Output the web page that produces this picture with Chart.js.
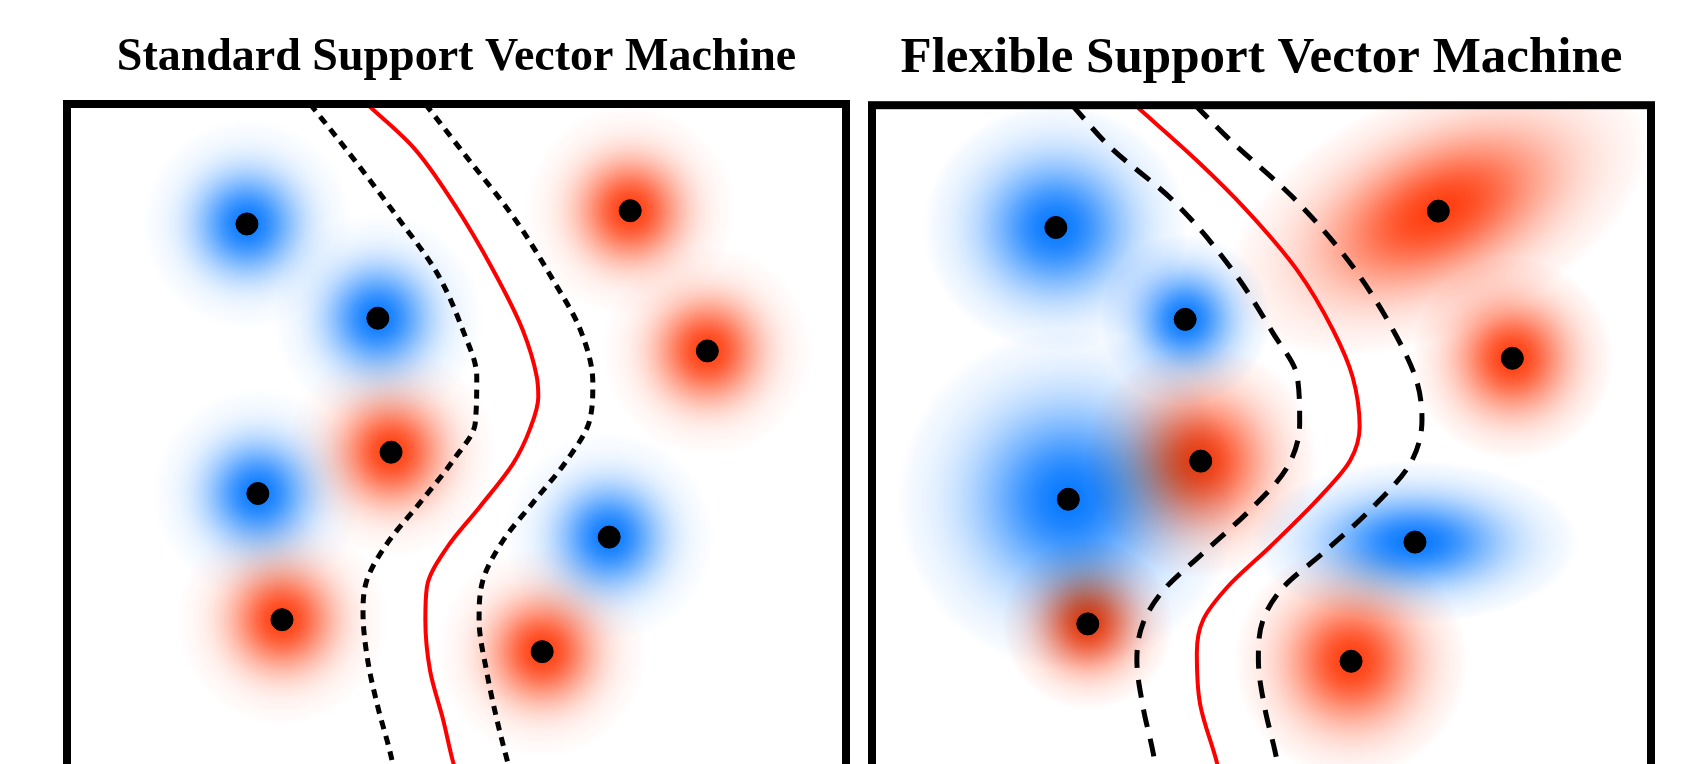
<!DOCTYPE html>
<html>
<head>
<meta charset="utf-8">
<script src="https://cdn.jsdelivr.net/npm/chart.js@4"></script>
<style>
  html, body { margin: 0; padding: 0; background: #fff; overflow: hidden; width: 1700px; height: 764px; }
  canvas { position: absolute; top: 0; }
  #stdChart { left: 0; }
  #flexChart { left: 860px; }
</style>
</head>
<body>
<canvas id="stdChart" width="860" height="900"></canvas>
<canvas id="flexChart" width="840" height="900"></canvas>
<script>
// --- data (plot units: 0..10 across the frame, y up) ---
const stdBlueX = [2.31, 3.99, 2.45, 6.96];
const stdBlueY = [8.46, 7.25, 5.00, 4.44];
const stdRedX = [7.23, 8.22, 4.16, 2.76, 6.10];
const stdRedY = [8.63, 6.83, 5.53, 3.38, 2.97];

const flexBlueX = [2.36, 4.02, 2.52, 6.97];
const flexBlueY = [8.43, 7.25, 4.94, 4.39];
const flexRedX = [7.27, 8.22, 4.22, 2.77, 6.15];
const flexRedY = [8.64, 6.75, 5.43, 3.34, 2.86];

// spread of each point (std panel: one size for all)
const stdSpread = 1.35;
const flexBlueSpreadX = [1.7, 1.1, 2.2, 2.1];
const flexBlueSpreadY = [1.6, 1.1, 2.2, 1.05];
const flexBlueAngle = [0, 0, 0, 0];
const flexRedSpreadX = [2.9, 1.3, 1.5, 1.1, 1.5];
const flexRedSpreadY = [1.55, 1.3, 1.5, 1.1, 1.5];
const flexRedAngle = [25, 0, 0, 0, 0];

// decision boundary and margins
const stdBoundX = [3.85, 4.44, 4.96, 5.47, 5.85, 6.03, 6.05, 5.94, 5.73, 5.30, 4.88, 4.62, 4.60, 4.66, 4.83, 4.96, 5.11];
const stdBoundY = [10.0, 9.45, 8.73, 7.87, 7.10, 6.50, 6.24, 5.82, 5.39, 4.83, 4.31, 3.80, 3.38, 2.73, 2.09, 1.54, 1.07];
const stdLowX = [3.12, 3.59, 4.24, 4.75, 5.08, 5.26, 5.24, 4.96, 4.53, 4.11, 3.85, 3.80, 3.86, 3.99, 4.15, 4.27];
const stdLowY = [10.0, 9.41, 8.55, 7.83, 7.10, 6.50, 5.90, 5.43, 4.88, 4.36, 3.89, 3.47, 2.86, 2.26, 1.67, 1.07];
const stdHighX = [4.60, 5.13, 5.73, 6.24, 6.59, 6.75, 6.71, 6.42, 5.98, 5.60, 5.34, 5.29, 5.39, 5.52, 5.66, 5.79];
const stdHighY = [10.0, 9.32, 8.55, 7.74, 7.10, 6.42, 5.94, 5.43, 4.88, 4.40, 3.89, 3.38, 2.70, 2.09, 1.54, 1.07];

const flexBoundX = [3.38, 4.17, 4.81, 5.46, 5.92, 6.17, 6.26, 6.14, 5.75, 5.11, 4.56, 4.25, 4.17, 4.21, 4.43, 4.53];
const flexBoundY = [10.0, 9.29, 8.65, 7.88, 7.11, 6.51, 5.87, 5.44, 4.97, 4.33, 3.81, 3.39, 2.97, 2.32, 1.55, 1.08];
const flexLowX = [2.57, 3.06, 3.86, 4.60, 5.15, 5.46, 5.49, 5.33, 4.85, 4.25, 3.74, 3.48, 3.40, 3.48, 3.61, 3.70];
const flexLowY = [10.0, 9.46, 8.78, 7.92, 7.07, 6.51, 5.92, 5.35, 4.80, 4.25, 3.77, 3.35, 2.88, 2.27, 1.68, 1.08];
const flexHighX = [4.15, 4.60, 5.40, 6.14, 6.74, 7.00, 7.06, 6.91, 6.39, 5.79, 5.28, 5.02, 4.96, 5.04, 5.17, 5.30];
const flexHighY = [10.0, 9.55, 8.82, 7.97, 7.02, 6.43, 5.96, 5.40, 4.80, 4.25, 3.81, 3.39, 2.88, 2.27, 1.72, 1.08];

const BLUE = [10, 122, 255];
const RED = [255, 62, 16];
const serif = '"Liberation Serif", "Times New Roman", serif';

function pts(xs, ys) {
    return xs.map((x, i) => ({ x: x, y: ys[i] }));
}

// gaussian glow under each point
const blobPlugin = {
    id: 'blobs',
    beforeDatasetsDraw(chart, args, opts) {
        const { ctx, chartArea } = chart;
        const sx = chart.scales.x, sy = chart.scales.y;
        ctx.save();
        ctx.beginPath();
        ctx.rect(chartArea.left, chartArea.top, chartArea.width, chartArea.height);
        ctx.clip();
        ctx.fillStyle = '#fff';
        ctx.fillRect(chartArea.left, chartArea.top, chartArea.width, chartArea.height);
        ctx.globalCompositeOperation = 'multiply';
        const unit = Math.abs(sx.getPixelForValue(1) - sx.getPixelForValue(0));
        opts.groups.forEach(g => {
            g.xs.forEach((xv, i) => {
                const px = sx.getPixelForValue(xv);
                const py = sy.getPixelForValue(g.ys[i]);
                const rx = g.rx[i] * unit, ry = g.ry[i] * unit;
                ctx.save();
                ctx.translate(px, py);
                ctx.rotate(-g.ang[i] * Math.PI / 180);
                ctx.scale(rx, ry);
                const grad = ctx.createRadialGradient(0, 0, 0, 0, 0, 1);
                for (let k = 0; k <= 12; k++) {
                    const t = k / 12;
                    const a = k === 12 ? 0 : Math.exp(-g.fall * t * t);
                    grad.addColorStop(t, `rgba(${g.c[0]},${g.c[1]},${g.c[2]},${a.toFixed(3)})`);
                }
                ctx.fillStyle = grad;
                ctx.beginPath();
                ctx.arc(0, 0, 1, 0, Math.PI * 2);
                ctx.fill();
                ctx.restore();
            });
        });
        ctx.restore();
    },
    afterDraw(chart) {
        const { ctx, chartArea } = chart;
        ctx.save();
        ctx.strokeStyle = '#000';
        ctx.lineWidth = 8;
        ctx.strokeRect(chartArea.left, chartArea.top, chartArea.width, chartArea.height);
        ctx.restore();
    }
};

function lineSet(xs, ys, color, dash, width) {
    return {
        type: 'line',
        data: pts(xs, ys),
        indexAxis: 'y',
        showLine: true,
        borderColor: color,
        borderWidth: width,
        borderDash: dash,
        pointRadius: 0,
        cubicInterpolationMode: 'monotone',
        fill: false,
        order: 2
    };
}

function makeChart(id, title, fontSize, titlePad, pad, p) {
    return new Chart(document.getElementById(id), {
        type: 'scatter',
        data: {
            datasets: [
                {
                    label: 'points',
                    data: pts(p.blueX.concat(p.redX), p.blueY.concat(p.redY)),
                    backgroundColor: '#000',
                    borderColor: '#000',
                    pointRadius: 11,
                    pointHoverRadius: 11,
                    order: 0
                },
                lineSet(p.boundX, p.boundY, '#ff0000', [], 4),
                lineSet(p.lowX, p.lowY, '#000', p.dash, 5),
                lineSet(p.highX, p.highY, '#000', p.dash, 5)
            ]
        },
        options: {
            responsive: false,
            animation: false,
            events: [],
            layout: { padding: pad },
            scales: {
                x: { type: 'linear', min: 0, max: 10, display: false },
                y: { type: 'linear', min: 0, max: 10, display: false }
            },
            plugins: {
                legend: { display: false },
                tooltip: { enabled: false },
                title: {
                    display: true,
                    text: title,
                    color: '#000',
                    font: { family: serif, size: fontSize, weight: 'bold', lineHeight: 1.2 },
                    padding: titlePad
                },
                blobs: { groups: p.groups }
            }
        },
        plugins: [blobPlugin]
    });
}

makeChart('stdChart', 'Standard Support Vector Machine', 46,
    { top: 31, bottom: 17.8 }, { left: 67, right: 14, top: 0, bottom: 17 }, {
    blueX: stdBlueX, blueY: stdBlueY, redX: stdRedX, redY: stdRedY,
    boundX: stdBoundX, boundY: stdBoundY, lowX: stdLowX, lowY: stdLowY, highX: stdHighX, highY: stdHighY,
    dash: [9, 7],
    groups: [
        { xs: stdBlueX, ys: stdBlueY, rx: stdBlueX.map(() => stdSpread), ry: stdBlueX.map(() => stdSpread), ang: stdBlueX.map(() => 0), c: BLUE, fall: 4.5 },
        { xs: stdRedX, ys: stdRedY, rx: stdRedX.map(() => stdSpread), ry: stdRedX.map(() => stdSpread), ang: stdRedX.map(() => 0), c: RED, fall: 4.5 }
    ]
});

makeChart('flexChart', 'Flexible Support Vector Machine', 51,
    { top: 28, bottom: 16 }, { left: 12, right: 49, top: 0, bottom: 16 }, {
    blueX: flexBlueX, blueY: flexBlueY, redX: flexRedX, redY: flexRedY,
    boundX: flexBoundX, boundY: flexBoundY, lowX: flexLowX, lowY: flexLowY, highX: flexHighX, highY: flexHighY,
    dash: [18, 12],
    groups: [
        { xs: flexBlueX, ys: flexBlueY, rx: flexBlueSpreadX, ry: flexBlueSpreadY, ang: flexBlueAngle, c: BLUE, fall: 3.6 },
        { xs: flexRedX, ys: flexRedY, rx: flexRedSpreadX, ry: flexRedSpreadY, ang: flexRedAngle, c: RED, fall: 3.6 }
    ]
});
</script>
</body>
</html>
